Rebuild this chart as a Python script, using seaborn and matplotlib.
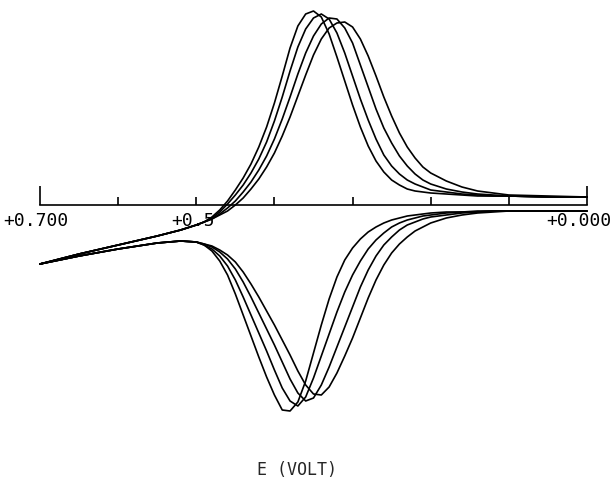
import numpy as np
import pandas as pd
import seaborn as sns
import matplotlib
matplotlib.use("Agg")
import matplotlib.pyplot as plt
from matplotlib.transforms import ScaledTranslation

# potential grid (V) (axis runs +0.7 -> 0.0)
E_grid = [0.70, 0.65, 0.60, 0.55, 0.52, 0.50, 0.49, 0.48, 0.47, 0.46,
          0.45, 0.44, 0.43, 0.42, 0.41, 0.40, 0.39, 0.38, 0.37, 0.36,
          0.35, 0.34, 0.33, 0.32, 0.31, 0.30, 0.29, 0.28, 0.27, 0.26,
          0.25, 0.24, 0.23, 0.22, 0.21, 0.20, 0.18, 0.16, 0.14, 0.12,
          0.10, 0.05, 0.00]

# upper (positive) branches, arbitrary current units
upper_a = [-59, -49, -40, -31, -25, -20, -17, -12, -5, 4,
           15, 27, 41, 58, 78, 102, 129, 157, 179, 191,
           194, 188, 171, 148, 124, 100, 78, 59, 44, 33,
           25, 20, 16, 14, 13, 12, 11, 10, 9, 9,
           9, 8, 8]
upper_b = [-59, -49, -40, -31, -25, -20, -17, -13, -7, 1,
           10, 20, 32, 46, 63, 84, 108, 134, 158, 176,
           187, 191, 186, 172, 152, 129, 106, 85, 66, 50,
           39, 31, 25, 21, 18, 15, 13, 11, 10, 9,
           9, 8, 8]
upper_c = [-59, -49, -40, -31, -25, -20, -17, -14, -9, -3,
           4, 13, 23, 35, 49, 66, 86, 108, 131, 152,
           169, 181, 187, 186, 177, 162, 140, 118, 96, 77,
           62, 49, 39, 31, 25, 21, 16, 13, 11, 10,
           9, 8, 8]
upper_d = [-59, -49, -40, -31, -25, -20, -17, -14, -10, -6,
           0, 7, 16, 26, 38, 52, 69, 88, 109, 130,
           150, 166, 177, 182, 183, 178, 166, 149, 129, 108,
           89, 72, 58, 47, 38, 32, 24, 18, 14, 12,
           10, 9, 8]

# lower (negative) branches
lower_a = [-59, -51, -44, -38, -36, -37, -40, -46, -56, -70,
           -89, -110, -131, -152, -172, -190, -205, -206, -197, -176,
           -148, -120, -94, -72, -55, -43, -34, -27, -22, -18,
           -15, -13, -11, -10, -9, -8, -7, -7, -6, -6,
           -6, -6, -6]
lower_b = [-59, -51, -44, -38, -36, -37, -40, -44, -51, -61,
           -75, -92, -110, -128, -146, -165, -183, -196, -201, -192,
           -173, -151, -129, -107, -87, -70, -56, -44, -35, -28,
           -22, -18, -15, -13, -11, -10, -8, -7, -7, -6,
           -6, -6, -6]
lower_c = [-59, -51, -44, -38, -36, -37, -39, -42, -47, -54,
           -64, -77, -92, -108, -124, -140, -157, -174, -188, -196,
           -193, -180, -162, -142, -122, -102, -82, -65, -51, -40,
           -32, -25, -20, -17, -14, -12, -10, -8, -7, -6,
           -6, -6, -6]
lower_d = [-59, -51, -44, -38, -36, -37, -39, -41, -45, -50,
           -57, -67, -79, -92, -106, -120, -135, -150, -166, -180,
           -189, -190, -182, -168, -151, -133, -113, -93, -75, -60,
           -48, -39, -32, -26, -22, -18, -13, -10, -8, -7,
           -6, -6, -6]

branches = {"a_low": lower_a, "a_up": upper_a, "b_low": lower_b, "b_up": upper_b,
            "c_low": lower_c, "c_up": upper_c, "d_low": lower_d, "d_up": upper_d}

major_ticks = [0.7, 0.0]
major_labels = ["+0.700", "+0.000"]
minor_ticks = [0.6, 0.5, 0.4, 0.3, 0.2, 0.1]
minor_labels = ["", "+0.5", "", "", "", ""]

# long table, one unit per branch
rows = []
for name, vals in branches.items():
    for k, (e, i) in enumerate(zip(E_grid, vals)):
        rows.append({"branch": name, "order": k, "E": e, "i": i})
df = pd.DataFrame(rows)

sns.set_style("white")
plt.rcParams["font.family"] = ["DejaVu Sans Mono"]

fig = plt.figure(figsize=(6.13, 4.81), dpi=100)
ax = fig.add_axes([0, 0, 1, 1])

sns.lineplot(data=df, x="E", y="i", units="branch", estimator=None,
             sort=False, color="black", linewidth=1.2, ax=ax, legend=False)

ax.set_xlim(0.7512, -0.0333)
ax.set_ylim(-275, 206)

for side in ["top", "right", "left"]:
    ax.spines[side].set_visible(False)
ax.spines["bottom"].set_position(("data", 0))
ax.spines["bottom"].set_bounds(0.0, 0.7)
ax.spines["bottom"].set_linewidth(1.2)
ax.spines["bottom"].set_color("black")

ax.set_xticks(major_ticks)
ax.set_xticklabels(major_labels)
ax.set_xticks(minor_ticks, minor=True)
ax.set_xticklabels(minor_labels, minor=True)
ax.tick_params(axis="x", which="both", bottom=True, direction="in", width=1.2,
               pad=4, labelsize=13, colors="black")
ax.tick_params(axis="x", which="major", length=14)
ax.tick_params(axis="x", which="minor", length=6)
ax.set_yticks([])
ax.set_xlabel("")
ax.set_ylabel("")

# nudge the end labels a little left, as in the original plotter output
shifts = [-4, -8]
for lab, dx in zip(ax.xaxis.get_majorticklabels(), shifts):
    lab.set_transform(lab.get_transform() + ScaledTranslation(dx / 100, 0, fig.dpi_scale_trans))
for lab in ax.xaxis.get_minorticklabels():
    lab.set_transform(lab.get_transform() + ScaledTranslation(-3 / 100, 0, fig.dpi_scale_trans))

ax.text(0.485, 0.023, "E (VOLT)", transform=ax.transAxes, ha="center",
        va="center", fontsize=12)

fig.savefig("out.png", dpi=100, facecolor="white")
